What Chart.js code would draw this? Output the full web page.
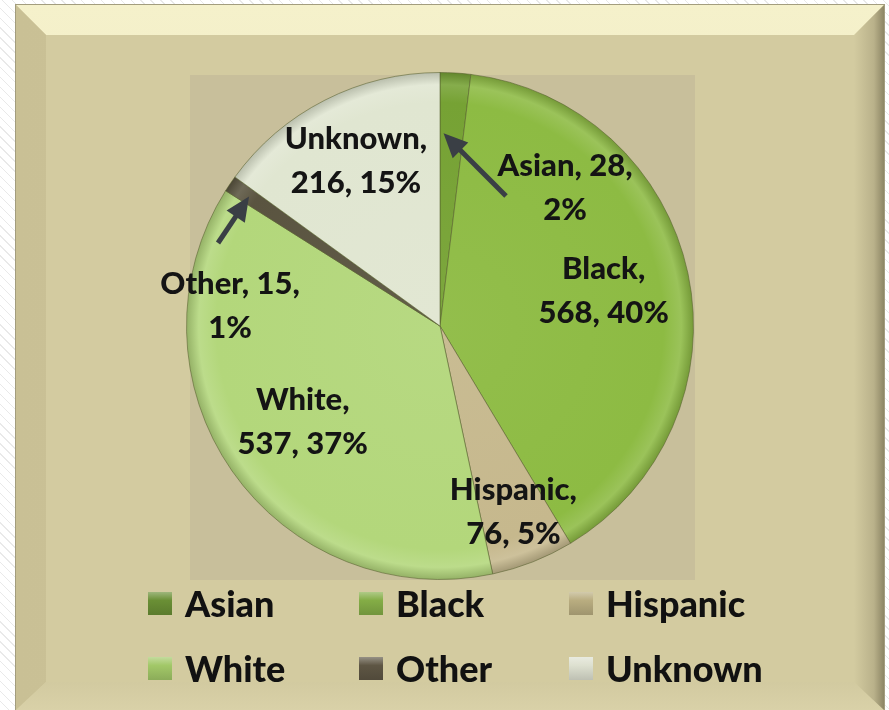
<!DOCTYPE html>
<html>
<head>
<meta charset="utf-8">
<script src="https://cdn.jsdelivr.net/npm/chart.js@4.4.1/dist/chart.umd.min.js"></script>
<style>
  html, body {
    margin: 0;
    padding: 0;
    width: 889px;
    height: 710px;
    overflow: hidden;
    background: repeating-linear-gradient(45deg, #ffffff 0 6px, #e9e9e9 6px 7px);
  }
  .bevel { position: absolute; left: 16px; top: 5px; width: 868px; height: 705px; }
  #frame { background: #d3cba0; box-shadow: 0 0 0 1px #a39d7e; }
  #bTop {
    background: linear-gradient(#f5f1cb, #e4deb2);
    clip-path: polygon(0 0, 868px 0, 838px 30px, 30px 30px);
  }
  #bLeft {
    background: linear-gradient(90deg, #c9c095, #d0c79c);
    clip-path: polygon(0 0, 30px 30px, 30px 677px, 0 705px);
  }
  #bRight {
    background: linear-gradient(90deg, rgba(211,203,160,0) 838px, #b9b18a 858px, #8d8665 868px);
    clip-path: polygon(868px 0, 868px 705px, 838px 677px, 838px 30px);
  }
  #bBottom {
    background: linear-gradient(#d2caa0 677px, #d9d1a8 705px);
    clip-path: polygon(0 705px, 868px 705px, 838px 677px, 30px 677px);
  }
  #chart { position: absolute; left: 0; top: 0; }
</style>
</head>
<body>
<div id="frame" class="bevel"></div>
<div id="bTop" class="bevel"></div>
<div id="bLeft" class="bevel"></div>
<div id="bBottom" class="bevel"></div>
<div id="bRight" class="bevel"></div>
<canvas id="chart" width="889" height="710"></canvas>
<script>
  const categories = ["Asian", "Black", "Hispanic", "White", "Other", "Unknown"];
  const counts = [28, 568, 76, 537, 15, 216];
  const pctLabels = [2, 40, 5, 37, 1, 15];

  const sliceColors = ["#76a234", "#8dbb43", "#c6b88d", "#b3d77b", "#5a5440", "#e0e6d1"];
  const swatchColors = ["#6a8f35", "#84ad46", "#b9ad80", "#a2c868", "#5e5644", "#dde0d0"];

  const labelFont = "900 31px Lato";
  const legendFont = "900 36px Lato";

  // tweak a hex colour lighter (+) or darker (-)
  function shade(hex, amt) {
    let n = parseInt(hex.slice(1), 16);
    let r = (n >> 16) & 255, g = (n >> 8) & 255, b = n & 255;
    const f = (c) => Math.max(0, Math.min(255, Math.round(amt > 0 ? c + (255 - c) * amt : c * (1 + amt))));
    return `rgb(${f(r)},${f(g)},${f(b)})`;
  }

  function sliceFill(context) {
    const chart = context.chart;
    const area = chart.chartArea;
    const base = sliceColors[context.dataIndex];
    if (!area) return base;
    const cx = (area.left + area.right) / 2;
    const cy = (area.top + area.bottom) / 2;
    const r = Math.min(area.right - area.left, area.bottom - area.top) / 2;
    const g = chart.ctx.createRadialGradient(cx, cy, 0, cx, cy, r);
    g.addColorStop(0, shade(base, 0.05));
    g.addColorStop(0.88, base);
    g.addColorStop(0.95, shade(base, 0.12));
    g.addColorStop(1, shade(base, -0.18));
    return g;
  }

  // how each slice label sits: radial fraction, or a callout with an arrow
  const labelPlacement = [
    { callout: true, dx: 125, dy: -138, tail: [66, -130], tipFrac: 0.76, tipAngle: 0.15, breakAfterValue: true },
    { frac: 0.66 },
    { frac: 0.79 },
    { frac: 0.66 },
    { callout: true, dx: -210, dy: -20, tail: [-222, -83], tipFrac: 0.91, tipAngle: 0.5, breakAfterValue: true },
    { frac: 0.73 }
  ];

  function drawArrow(ctx, x1, y1, x2, y2) {
    const ang = Math.atan2(y2 - y1, x2 - x1);
    const head = 24;
    ctx.save();
    ctx.strokeStyle = "#3a3f45";
    ctx.fillStyle = "#3a3f45";
    ctx.lineWidth = 5;
    ctx.beginPath();
    ctx.moveTo(x1, y1);
    ctx.lineTo(x2 - Math.cos(ang) * head * 0.8, y2 - Math.sin(ang) * head * 0.8);
    ctx.stroke();
    ctx.beginPath();
    ctx.moveTo(x2, y2);
    ctx.lineTo(x2 - Math.cos(ang) * head + Math.sin(ang) * 11, y2 - Math.sin(ang) * head - Math.cos(ang) * 11);
    ctx.lineTo(x2 - Math.cos(ang) * head - Math.sin(ang) * 11, y2 - Math.sin(ang) * head + Math.cos(ang) * 11);
    ctx.closePath();
    ctx.fill();
    ctx.restore();
  }

  const plotBackground = {
    id: "plotBackground",
    beforeDraw(chart) {
      const { ctx, chartArea } = chart;
      ctx.save();
      ctx.fillStyle = "#c8bf9b";
      ctx.fillRect(chartArea.left + 4, chartArea.top + 3, chartArea.right - chartArea.left - 3, chartArea.bottom - chartArea.top - 3);
      ctx.restore();
    }
  };

  const sliceLabels = {
    id: "sliceLabels",
    afterDatasetsDraw(chart) {
      const ctx = chart.ctx;
      const meta = chart.getDatasetMeta(0);
      ctx.save();
      ctx.font = labelFont;
      ctx.fillStyle = "#141414";
      ctx.textAlign = "center";
      ctx.textBaseline = "middle";
      meta.data.forEach((arc, i) => {
        const p = arc.getProps(["x", "y", "startAngle", "endAngle", "outerRadius"], true);
        const mid = (p.startAngle + p.endAngle) / 2;
        const place = labelPlacement[i];
        const lines = place.breakAfterValue
          ? [categories[i] + ", " + counts[i] + ",", pctLabels[i] + "%"]
          : [categories[i] + ",", counts[i] + ", " + pctLabels[i] + "%"];
        let lx, ly;
        if (place.callout) {
          lx = p.x + place.dx;
          ly = p.y + place.dy;
          const tipR = p.outerRadius * place.tipFrac;
          const ta = p.startAngle + (p.endAngle - p.startAngle) * place.tipAngle;
          drawArrow(ctx, p.x + place.tail[0], p.y + place.tail[1],
            p.x + Math.cos(ta) * tipR, p.y + Math.sin(ta) * tipR);
        } else {
          lx = p.x + Math.cos(mid) * p.outerRadius * place.frac;
          ly = p.y + Math.sin(mid) * p.outerRadius * place.frac;
        }
        ctx.fillText(lines[0], lx, ly - 22);
        ctx.fillText(lines[1], lx, ly + 22);
      });
      ctx.restore();
    }
  };

  const gridLegend = {
    id: "gridLegend",
    afterDraw(chart) {
      const ctx = chart.ctx;
      const colX = [148, 359, 569];
      const rowY = [604, 669];
      ctx.save();
      ctx.font = legendFont;
      ctx.textBaseline = "middle";
      categories.forEach((name, i) => {
        const x = colX[i % 3];
        const y = rowY[Math.floor(i / 3)];
        const g = ctx.createLinearGradient(0, y - 12, 0, y + 12);
        g.addColorStop(0, shade(swatchColors[i], 0.35));
        g.addColorStop(0.35, swatchColors[i]);
        g.addColorStop(1, shade(swatchColors[i], -0.15));
        ctx.fillStyle = g;
        ctx.fillRect(x, y - 12, 24, 23);
        ctx.fillStyle = "#111111";
        ctx.fillText(name, x + 37, y + 1);
      });
      ctx.restore();
    }
  };

  new Chart(document.getElementById("chart").getContext("2d"), {
    type: "pie",
    data: {
      labels: categories,
      datasets: [
        {
          data: counts,
          backgroundColor: sliceFill,
          borderColor: "rgba(85,95,45,0.55)",
          borderWidth: 1
        }
      ]
    },
    options: {
      responsive: false,
      animation: false,
      layout: { padding: { left: 186, right: 195, top: 72, bottom: 130 } },
      plugins: {
        legend: { display: false },
        tooltip: { enabled: false }
      }
    },
    plugins: [plotBackground, sliceLabels, gridLegend]
  });
</script>
</body>
</html>
